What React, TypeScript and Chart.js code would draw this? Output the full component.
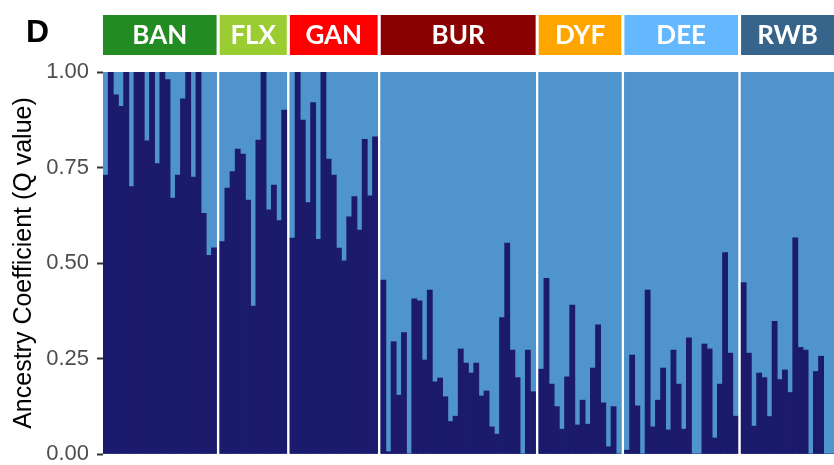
import React, { useEffect, useRef } from "react";
import { Chart, registerables } from "chart.js";

Chart.register(...registerables);

// ---- Data ----
const GROUPS = ["BAN", "FLX", "GAN", "BUR", "DYF", "DEE", "RWB"];
const GROUP_COLORS = ["#228B22", "#9ACD32", "#FF0000", "#8B0000", "#FFA500", "#63B8FF", "#36648B"];

const BAN = [0.73, 1.0, 0.94, 0.91, 1.0, 0.70, 1.0, 1.0, 0.82, 1.0, 0.76, 1.0, 0.98, 0.67, 0.73, 0.93, 1.0, 0.725, 1.0, 0.63, 0.52, 0.54];
const FLX = [0.556, 0.696, 0.739, 0.798, 0.785, 0.665, 0.387, 0.822, 1.0, 0.639, 0.704, 0.611, 0.90];
const GAN = [0.565, 1.0, 0.874, 0.658, 0.92, 0.562, 1.0, 0.772, 0.73, 0.539, 0.506, 0.621, 0.674, 0.586, 0.824, 0.676, 0.83];
const BUR = [0.455, 0.006, 0.294, 0.154, 0.318, 0, 0.406, 0.401, 0.246, 0.429, 0.189, 0.199, 0.15, 0.085, 0.099, 0.275, 0.238, 0.212, 0.238, 0.152, 0.165, 0.071, 0.052, 0.357, 0.552, 0.272, 0.2, 0, 0.272, 0.163];
const DYF = [0.222, 0.46, 0.183, 0.124, 0.065, 0.202, 0.39, 0.076, 0.141, 0.078, 0.225, 0.338, 0.134, 0.019, 0.124, 0];
const DEE = [0.01, 0.259, 0.126, 0, 0.429, 0.071, 0.141, 0.225, 0.063, 0.272, 0.183, 0.065, 0.304, 0, 0, 0.288, 0.275, 0.042, 0.183, 0.527, 0.264, 0.099];
const RWB = [0.449, 0.264, 0.073, 0.212, 0.2, 0.098, 0.347, 0.195, 0.22, 0.161, 0.566, 0.279, 0.272, 0, 0.216, 0.256, 0, 0];

const Q_BY_GROUP = [BAN, FLX, GAN, BUR, DYF, DEE, RWB];
const Y_TICKS = [0, 0.25, 0.5, 0.75, 1.0];

const PANEL_LABEL = "D";
const Y_TITLE = "Ancestry Coefficient (Q value)";

const DARK = "#1B1A6C";
const LIGHT = "#4F94CD";
const GAP = 0.6; // panel spacing in bar units

export default function App() {
  const ref = useRef<HTMLCanvasElement>(null);

  useEffect(() => {
    const qPts: { x: number; y: number }[] = [];
    const restPts: { x: number; y: number }[] = [];
    const ranges: { start: number; end: number }[] = [];
    let idx = 0;
    Q_BY_GROUP.forEach((vals, gi) => {
      const start = idx + gi * GAP;
      vals.forEach((q) => {
        const x = idx + gi * GAP + 0.5;
        qPts.push({ x, y: q });
        restPts.push({ x, y: 1 - q });
        idx++;
      });
      ranges.push({ start, end: idx + gi * GAP });
    });
    const xMax = idx + (Q_BY_GROUP.length - 1) * GAP;

    const deco = {
      id: "deco",
      beforeDatasetsDraw(chart: any) {
        const { ctx, chartArea, scales } = chart;
        const xs = scales.x;
        ctx.save();
        ranges.forEach((r) => {
          const x0 = xs.getPixelForValue(r.start);
          const x1 = xs.getPixelForValue(r.end);
          ctx.fillStyle = LIGHT;
          ctx.fillRect(x0, chartArea.top, x1 - x0, chartArea.bottom - chartArea.top);
        });
        ctx.restore();
      },
      afterDraw(chart: any) {
        const { ctx, chartArea, scales } = chart;
        const xs = scales.x;
        ctx.save();
        // header strips
        ranges.forEach((r, gi) => {
          const x0 = xs.getPixelForValue(r.start);
          const x1 = xs.getPixelForValue(r.end);
          ctx.fillStyle = GROUP_COLORS[gi];
          ctx.fillRect(x0, 15, x1 - x0, 40);
          ctx.fillStyle = "#FFFFFF";
          ctx.font = "bold 26px Lato";
          ctx.textAlign = "center";
          ctx.textBaseline = "middle";
          ctx.fillText(GROUPS[gi], (x0 + x1) / 2, 36);
        });
        // panel label
        ctx.fillStyle = "#000000";
        ctx.font = "bold 32px 'Liberation Sans'";
        ctx.textAlign = "left";
        ctx.textBaseline = "alphabetic";
        ctx.fillText(PANEL_LABEL, 26, 42);
        // y title
        ctx.translate(24, (chartArea.top + chartArea.bottom) / 2);
        ctx.rotate(-Math.PI / 2);
        ctx.fillStyle = "#000000";
        ctx.font = "25px 'Liberation Sans'";
        ctx.textAlign = "center";
        ctx.textBaseline = "middle";
        ctx.fillText(Y_TITLE, 0, 0);
        ctx.restore();
      },
    };

    const chart = new Chart(ref.current!, {
      type: "bar",
      data: {
        datasets: [
          { label: "Q", data: qPts as any, backgroundColor: DARK, borderWidth: 0, barPercentage: 1, categoryPercentage: 1 },
          { label: "1-Q", data: restPts as any, backgroundColor: LIGHT, borderWidth: 0, barPercentage: 1, categoryPercentage: 1 },
        ],
      },
      options: {
        animation: false,
        responsive: false,
        maintainAspectRatio: false,
        layout: { padding: { top: 72, bottom: 11, left: 0, right: 0 } },
        plugins: { legend: { display: false }, tooltip: { enabled: false }, title: { display: false } },
        scales: {
          x: { type: "linear", stacked: true, min: 0, max: xMax, display: false, offset: false },
          y: {
            stacked: true,
            min: 0,
            max: 1,
            border: { display: false },
            grid: { drawOnChartArea: false, drawTicks: true, tickLength: 6, tickColor: "#333333", tickWidth: 2 },
            afterBuildTicks: (axis: any) => {
              axis.ticks = Y_TICKS.map((v) => ({ value: v }));
            },
            afterFit: (axis: any) => {
              axis.width = 103;
              axis.paddingTop = 0;
              axis.paddingBottom = 0;
            },
            ticks: {
              padding: 8,
              color: "#4D4D4D",
              font: { family: "'Liberation Sans'", size: 22, lineHeight: 1 },
              callback: (v: any) => Number(v).toFixed(2),
            },
          },
        },
      },
      plugins: [deco],
    });
    return () => chart.destroy();
  }, []);

  return (
    <div style={{ position: "absolute", left: 0, top: 0, width: 834, height: 465, background: "#fff" }}>
      <canvas ref={ref} width={834} height={465} style={{ display: "block" }} />
    </div>
  );
}
